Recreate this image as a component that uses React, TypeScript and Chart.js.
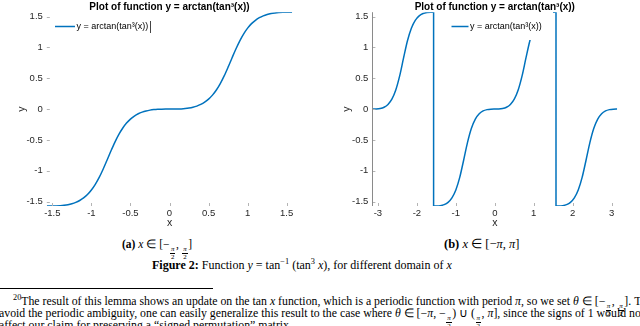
import React, { useEffect, useRef } from 'react';
import { Chart, registerables } from 'chart.js';

Chart.register(...registerables);

const FONT = '"Liberation Sans", Arial, Helvetica, sans-serif';
const SERIF = '"Liberation Serif", "Times New Roman", serif';
const BLUE = '#0072BD';
const TITLE_TEXT = 'Plot of function y = arctan(tan³(x))';
const LEGEND_TEXT = 'y = arctan(tan³(x))';
const X_LABEL = 'x';
const Y_LABEL = 'y';

// Panel (a): x in [-pi/2, pi/2]
const xA = [
  -1.5708, -1.5, -1.45, -1.4, -1.35, -1.3, -1.25, -1.2, -1.15, -1.1, -1.05, -1.0,
  -0.95, -0.9, -0.85, -0.8, -0.75, -0.7, -0.65, -0.6, -0.55, -0.5, -0.45, -0.4,
  -0.35, -0.3, -0.25, -0.2, -0.15, -0.1, -0.05, 0, 0.05, 0.1, 0.15, 0.2, 0.25, 0.3,
  0.35, 0.4, 0.45, 0.5, 0.55, 0.6, 0.65, 0.7, 0.75, 0.8, 0.85, 0.9, 0.95, 1.0,
  1.05, 1.1, 1.15, 1.2, 1.25, 1.3, 1.35, 1.4, 1.45, 1.5, 1.5708,
];
const yA = [
  -1.5708, -1.5704, -1.569, -1.5657, -1.5595, -1.5494, -1.5341, -1.5121, -1.4813, -1.4397, -1.3853, -1.312,
  -1.2202, -1.1074, -0.975, -0.8291, -0.6799, -0.5386, -0.4139, -0.31, -0.2265, -0.1616, -0.1123, -0.0754,
  -0.0486, -0.0296, -0.0166, -0.0083, -0.0035, -0.001, -0.0001, 0, 0.0001, 0.001, 0.0035, 0.0083, 0.0166, 0.0296,
  0.0486, 0.0754, 0.1123, 0.1616, 0.2265, 0.31, 0.4139, 0.5386, 0.6799, 0.8291, 0.975, 1.1074, 1.2202, 1.312,
  1.3853, 1.4397, 1.4813, 1.5121, 1.5341, 1.5494, 1.5595, 1.5657, 1.569, 1.5704, 1.5708,
];

// Panel (b): x in [-pi, pi]
const xB = [
  -3.1416, -3.0416, -2.9416, -2.8416, -2.7416, -2.6416, -2.5416, -2.4416, -2.3416, -2.2416, -2.1416, -2.0416,
  -1.9416, -1.8416, -1.7416, -1.6416, -1.5708,
  -1.5708, -1.5, -1.4, -1.3, -1.2, -1.1, -1.0, -0.9, -0.8, -0.7, -0.6, -0.5, -0.4, -0.3, -0.2, -0.1, 0,
  0.1, 0.2, 0.3, 0.4, 0.5, 0.6, 0.7, 0.8, 0.9, 1.0, 1.1, 1.2, 1.3, 1.4, 1.5, 1.5708,
  1.5708, 1.6416, 1.7416, 1.8416, 1.9416, 2.0416, 2.1416, 2.2416, 2.3416, 2.4416, 2.5416, 2.6416, 2.7416,
  2.8416, 2.9416, 3.0416, 3.1416,
];
const yB = [
  0, 0.001, 0.0083, 0.0296, 0.0754, 0.1616, 0.31, 0.5386, 0.8291, 1.1074, 1.312, 1.4397,
  1.5121, 1.5494, 1.5657, 1.5704, 1.5708,
  -1.5708, -1.5704, -1.5657, -1.5494, -1.5121, -1.4397, -1.312, -1.1074, -0.8291, -0.5386, -0.31, -0.1616, -0.0754, -0.0296, -0.0083, -0.001, 0,
  0.001, 0.0083, 0.0296, 0.0754, 0.1616, 0.31, 0.5386, 0.8291, 1.1074, 1.312, 1.4397, 1.5121, 1.5494, 1.5657, 1.5704, 1.5708,
  -1.5708, -1.5704, -1.5657, -1.5494, -1.5121, -1.4397, -1.312, -1.1074, -0.8291, -0.5386, -0.31, -0.1616, -0.0754,
  -0.0296, -0.0083, -0.001, 0,
];

const xTicksA = [-1.5, -1, -0.5, 0, 0.5, 1, 1.5];
const xTicksB = [-3, -2, -1, 0, 1, 2, 3];
const yTicks = [-1.5, -1, -0.5, 0, 0.5, 1, 1.5];

type Panel = {
  xs: number[];
  ys: number[];
  xMin: number;
  xMax: number;
  xTicks: number[];
  yAxisWidth: number;
  padRight: number;
  yLabelGap: number;
  legend: { lineX: number; lineLen: number; y: number; bg?: number[]; bar?: number };
  yAxisLine: boolean;
};

function makeConfig(p: Panel): any {
  const textPlugin = {
    id: 'matText',
    afterDraw(chart: any) {
      const { ctx, chartArea: ca } = chart;
      ctx.save();
      ctx.fillStyle = '#000';
      ctx.textAlign = 'center';
      ctx.textBaseline = 'middle';
      ctx.font = `bold 10px ${FONT}`;
      ctx.fillText(TITLE_TEXT, (ca.left + ca.right) / 2, 7);
      ctx.fillStyle = '#262626';
      ctx.font = `10.5px ${FONT}`;
      ctx.fillText(X_LABEL, (ca.left + ca.right) / 2, ca.bottom + 17);
      ctx.translate(ca.left - p.yLabelGap, (ca.top + ca.bottom) / 2);
      ctx.rotate(-Math.PI / 2);
      ctx.fillText(Y_LABEL, 0, 0);
      ctx.restore();
    },
  };
  const decorPlugin = {
    id: 'matDecor',
    afterDatasetsDraw(chart: any) {
      const { ctx, chartArea: ca, scales } = chart;
      const xs = scales.x;
      const ys = scales.y;
      ctx.save();
      ctx.strokeStyle = '#b4b4b4';
      ctx.lineWidth = 1;
      ctx.beginPath();
      xs.ticks.forEach((t: any) => {
        const px = Math.round(xs.getPixelForValue(t.value)) + 0.5;
        ctx.moveTo(px, ca.bottom);
        ctx.lineTo(px, ca.bottom - 3);
      });
      ys.ticks.forEach((t: any) => {
        const py = Math.round(ys.getPixelForValue(t.value)) + 0.5;
        ctx.moveTo(ca.left, py);
        ctx.lineTo(ca.left + 3, py);
      });
      ctx.stroke();
      if (p.yAxisLine) {
        ctx.strokeStyle = '#8a8a8a';
        ctx.beginPath();
        const lx = Math.round(ca.left) + 0.5;
        ctx.moveTo(lx, ca.top);
        ctx.lineTo(lx, ca.bottom);
        ctx.stroke();
      }
      const lg = p.legend;
      if (lg.bg) {
        ctx.fillStyle = '#fff';
        ctx.fillRect(lg.bg[0], lg.bg[1], lg.bg[2], lg.bg[3]);
      }
      ctx.strokeStyle = BLUE;
      ctx.lineWidth = 1.5;
      ctx.beginPath();
      ctx.moveTo(lg.lineX, lg.y);
      ctx.lineTo(lg.lineX + lg.lineLen, lg.y);
      ctx.stroke();
      ctx.font = `9px ${FONT}`;
      ctx.fillStyle = '#000';
      ctx.textAlign = 'left';
      ctx.textBaseline = 'middle';
      ctx.fillText(LEGEND_TEXT, lg.lineX + lg.lineLen + 1.5, lg.y + 0.5);
      if (lg.bar !== undefined) {
        ctx.strokeStyle = '#444';
        ctx.lineWidth = 1;
        ctx.beginPath();
        ctx.moveTo(lg.bar + 0.5, lg.y - 5.5);
        ctx.lineTo(lg.bar + 0.5, lg.y + 6.5);
        ctx.stroke();
      }
      ctx.restore();
    },
  };

  const tickFont = { family: FONT, size: 9.5 };

  return {
    type: 'line',
    data: {
      datasets: [
        {
          label: LEGEND_TEXT,
          data: p.xs.map((x, i) => ({ x, y: p.ys[i] })),
          borderColor: BLUE,
          borderWidth: 1.5,
          pointRadius: 0,
          fill: false,
          cubicInterpolationMode: 'monotone',
        },
      ],
    },
    options: {
      animation: false,
      responsive: false,
      devicePixelRatio: 1,
      layout: { padding: { left: 0, right: p.padRight, top: 12.2, bottom: 0 } },
      plugins: {
        legend: { display: false },
        title: { display: false },
        tooltip: { enabled: false },
      },
      scales: {
        x: {
          type: 'linear',
          min: p.xMin,
          max: p.xMax,
          grid: { display: false, drawTicks: false },
          border: { display: false },
          afterBuildTicks: (ax: any) => {
            ax.ticks = p.xTicks.map((v) => ({ value: v }));
          },
          afterFit: (ax: any) => {
            ax.height = 26;
          },
          ticks: {
            font: tickFont,
            color: '#262626',
            padding: 2,
            maxRotation: 0,
            autoSkip: false,
            callback: (v: any) => String(v),
          },
        },
        y: {
          type: 'linear',
          min: -Math.PI / 2,
          max: Math.PI / 2,
          grid: { display: false, drawTicks: false },
          border: { display: false },
          afterBuildTicks: (ax: any) => {
            ax.ticks = yTicks.map((v) => ({ value: v }));
          },
          afterFit: (ax: any) => {
            ax.width = p.yAxisWidth;
          },
          ticks: {
            font: tickFont,
            color: '#262626',
            padding: 4,
            autoSkip: false,
            callback: (v: any) => String(v),
          },
        },
      },
    },
    plugins: [decorPlugin, textPlugin],
  };
}

const panelA: Panel = {
  xs: xA,
  ys: yA,
  xMin: -Math.PI / 2,
  xMax: Math.PI / 2,
  xTicks: xTicksA,
  yAxisWidth: 46.8,
  padRight: 27.8,
  yLabelGap: 25,
  legend: { lineX: 55, lineLen: 20, y: 26.5, bar: 150 },
  yAxisLine: false,
};

const panelB: Panel = {
  xs: xB,
  ys: yB,
  xMin: -Math.PI,
  xMax: Math.PI,
  xTicks: xTicksB,
  yAxisWidth: 52.4,
  padRight: 22.8,
  yLabelGap: 25,
  legend: { lineX: 131.5, lineLen: 17, y: 26.5, bg: [126, 10, 107, 30] },
  yAxisLine: true,
};

function Plot({ panel, left }: { panel: Panel; left: number }) {
  const ref = useRef<HTMLCanvasElement>(null);
  useEffect(() => {
    const chart = new Chart(ref.current as HTMLCanvasElement, makeConfig(panel));
    return () => chart.destroy();
  }, []);
  return (
    <canvas
      ref={ref}
      width={320}
      height={232}
      style={{ position: 'absolute', left, top: 0, width: 320, height: 232 }}
    />
  );
}

function Frac({ n, d }: { n: string; d: string }) {
  return (
    <span
      style={{
        display: 'inline-flex',
        flexDirection: 'column',
        alignItems: 'center',
        fontSize: '0.6em',
        lineHeight: 1,
        verticalAlign: '-0.4em',
        margin: '0 0.5px',
      }}
    >
      <span style={{ fontStyle: 'italic' }}>{n}</span>
      <span style={{ borderTop: '0.7px solid #000', padding: '0 1px' }}>{d}</span>
    </span>
  );
}

const textLine = (top: number, left: number, size: number): React.CSSProperties => ({
  position: 'absolute',
  top,
  left,
  fontFamily: SERIF,
  fontSize: size,
  lineHeight: '12px',
  whiteSpace: 'nowrap',
  color: '#000',
});

const sup: React.CSSProperties = { fontSize: '0.7em', lineHeight: 0 };

export default function App() {
  return (
    <div
      style={{
        position: 'fixed',
        left: 0,
        top: 0,
        width: 640,
        height: 326,
        overflow: 'hidden',
        background: '#fff',
      }}
    >
      <Plot panel={panelA} left={0} />
      <Plot panel={panelB} left={320} />

      <div style={textLine(238, 122, 11.5)}>
        <b>(a)</b> <i>x</i> ∈ [−<Frac n="π" d="2" />, <Frac n="π" d="2" />]
      </div>
      <div style={textLine(238, 444, 12.5)}>
        <b>(b)</b> <i>x</i> ∈ [−<i>π</i>, <i>π</i>]
      </div>
      <div style={textLine(259, 152, 12)}>
        <b>Figure 2:</b> Function <i>y</i> = tan<sup style={sup}>−1</sup> (tan
        <sup style={sup}>3</sup> <i>x</i>), for different domain of <i>x</i>
      </div>
      <div
        style={{ position: 'absolute', left: 0, top: 288, width: 213, height: 0, borderTop: '1px solid #000' }}
      />
      <div style={textLine(295, 13, 11.8)}>
        <sup style={sup}>20</sup>The result of this lemma shows an update on the tan <i>x</i> function, which
        is a periodic function with period <i>π</i>, so we set <i>θ</i> ∈ [−
        <Frac n="π" d="2" />, <Frac n="π" d="2" />]. To
      </div>
      <div style={textLine(307, -1, 11.8)}>
        avoid the periodic ambiguity, one can easily generalize this result to the case where <i>θ</i> ∈ [−
        <i>π</i>, −<Frac n="π" d="2" />) ∪ (<Frac n="π" d="2" />, <i>π</i>], since the signs of 1 would not
      </div>
      <div style={textLine(319, -1, 11.8)}>
        affect our claim for preserving a “signed permutation” matrix.
      </div>
    </div>
  );
}
